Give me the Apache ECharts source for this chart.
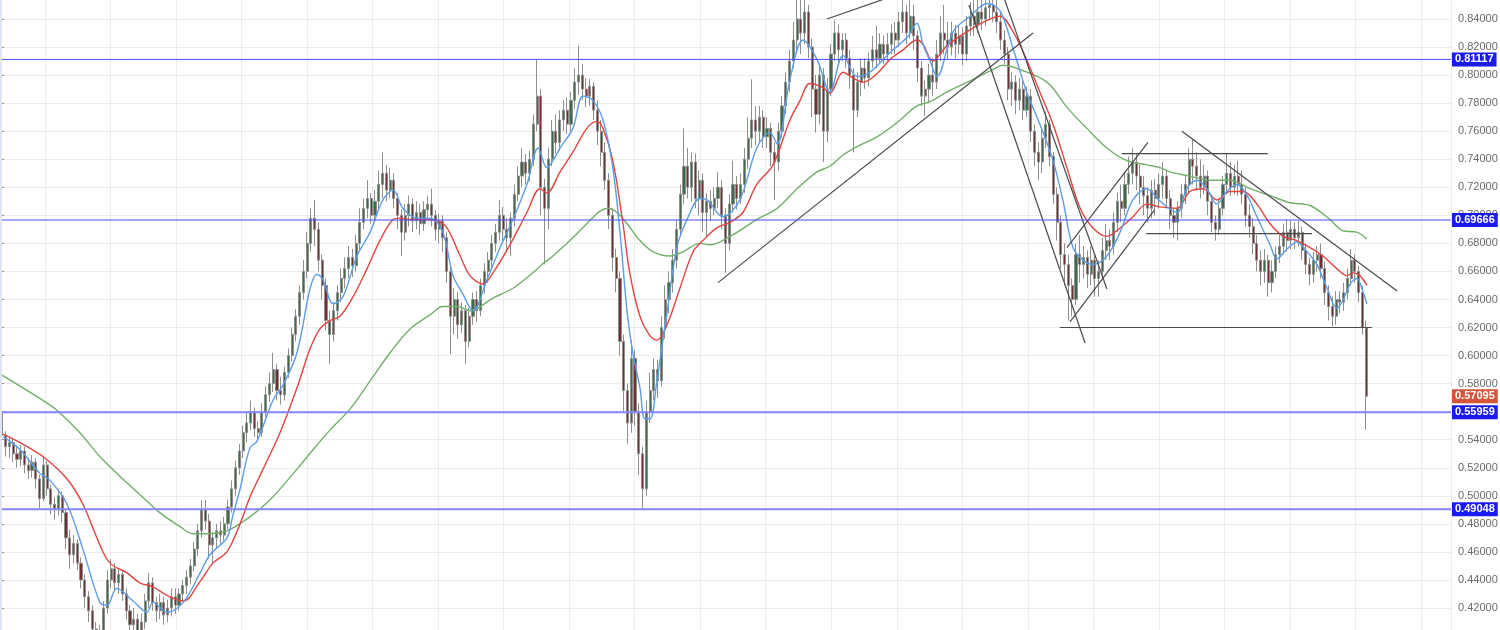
<!DOCTYPE html>
<html><head><meta charset="utf-8">
<script src="https://cdn.jsdelivr.net/npm/echarts/dist/echarts.min.js"></script>
<style>html,body{margin:0;padding:0;background:#fff;overflow:hidden}#c{width:1500px;height:630px}</style>
</head><body><div id="c"></div>
<script>
// Candles: [open, close, low, high] — one candle per 3 weeks
const candles1999_2002 = [
[.560,.543,.540,.566],[.543,.535,.528,.546],[.535,.538,.527,.542],[.538,.530,.524,.541],[.530,.526,.520,.535],
[.526,.532,.521,.536],[.532,.522,.516,.535],[.522,.518,.512,.527],[.518,.524,.513,.529],[.524,.512,.505,.527],
[.512,.498,.491,.515],[.498,.522,.496,.528],[.522,.505,.500,.525],[.505,.494,.487,.508],[.494,.490,.483,.499],
[.490,.500,.486,.505],[.500,.488,.481,.503],[.488,.470,.462,.491],[.470,.458,.448,.476],[.458,.466,.452,.472],
[.466,.452,.447,.469],[.452,.440,.434,.456],[.440,.428,.420,.444],[.428,.418,.410,.432],[.418,.405,.398,.422],
[.405,.395,.390,.410],[.395,.402,.390,.408],[.402,.420,.398,.425],[.420,.440,.416,.447],[.440,.448,.434,.455],
[.448,.438,.432,.452],[.438,.444,.430,.448],[.444,.430,.425,.447],[.430,.418,.412,.434],[.418,.408,.400,.422],
[.408,.412,.400,.420],[.412,.402,.396,.416],[.402,.410,.398,.416],[.410,.425,.405,.430],[.425,.438,.420,.445],
[.438,.424,.418,.442],[.424,.418,.410,.428],[.418,.424,.412,.430],[.424,.415,.408,.428],[.415,.420,.410,.426],
[.420,.428,.414,.434]
];
const candles2002_2005 = [
[.428,.422,.416,.434],[.422,.430,.418,.434],[.430,.436,.425,.440],[.436,.442,.430,.447],[.442,.450,.437,.455],
[.450,.462,.446,.467],[.462,.475,.457,.480],[.475,.490,.470,.497],[.490,.482,.476,.497],[.482,.465,.455,.487],
[.465,.470,.451,.474],[.470,.475,.463,.480],[.475,.472,.466,.482],[.472,.480,.468,.485],[.480,.492,.476,.497],
[.492,.505,.488,.511],[.505,.520,.500,.525],[.520,.532,.515,.537],[.532,.545,.527,.550],[.545,.552,.538,.560],
[.552,.560,.547,.568],[.560,.548,.542,.563],[.548,.545,.539,.553],[.545,.560,.542,.566],[.560,.572,.556,.578],
[.572,.580,.567,.588],[.580,.590,.574,.602],[.590,.575,.568,.594],[.575,.572,.565,.585],[.572,.588,.568,.592],
[.588,.600,.584,.605],[.600,.615,.596,.620],[.615,.628,.610,.633],[.628,.645,.622,.650],[.645,.660,.640,.668],
[.660,.680,.655,.688],[.680,.698,.674,.705],[.698,.690,.678,.711],[.690,.668,.660,.695],[.668,.650,.640,.672],
[.650,.625,.618,.655],[.625,.615,.594,.632],[.615,.632,.610,.638],[.632,.645,.625,.650],[.645,.655,.638,.662],
[.655,.662,.648,.670],[.662,.670,.655,.678],[.670,.664,.656,.676],[.664,.680,.660,.686],[.680,.695,.675,.705],
[.695,.705,.690,.712],[.705,.712,.698,.725]
];
const candles2005_2008 = [
[.712,.700,.694,.716],[.700,.710,.695,.718],[.710,.722,.705,.732],[.722,.730,.712,.745],[.730,.718,.710,.736],
[.718,.725,.712,.734],[.725,.712,.705,.730],[.712,.700,.690,.716],[.700,.688,.671,.704],[.688,.700,.682,.708],
[.700,.708,.692,.714],[.708,.696,.688,.712],[.696,.702,.690,.710],[.702,.694,.686,.708],[.694,.704,.689,.710],
[.704,.708,.697,.714],[.708,.700,.692,.719],[.700,.690,.682,.704],[.690,.696,.680,.701],[.696,.684,.674,.700],
[.684,.660,.652,.688],[.660,.628,.601,.664],[.628,.640,.615,.648],[.640,.622,.612,.645],[.622,.632,.616,.638],
[.632,.610,.594,.636],[.610,.628,.606,.634],[.628,.640,.622,.645],[.640,.632,.624,.646],[.632,.650,.628,.655],
[.650,.660,.644,.666],[.660,.668,.652,.674],[.668,.680,.662,.686],[.680,.688,.674,.694],[.688,.700,.682,.711],
[.700,.690,.680,.706],[.690,.684,.674,.698],[.684,.698,.671,.702],[.698,.715,.692,.722],[.715,.728,.710,.735],
[.728,.738,.720,.748],[.738,.730,.722,.744],[.730,.740,.724,.746],[.740,.765,.735,.772],[.765,.785,.760,.811],
[.785,.720,.700,.790],[.720,.705,.665,.726],[.705,.740,.690,.748],[.740,.760,.735,.768],[.760,.752,.744,.772],
[.752,.768,.746,.775],[.768,.775,.760,.782],[.775,.765,.758,.784]
];
const candles2008_2011 = [
[.765,.782,.760,.788],[.782,.795,.776,.805],[.795,.800,.786,.821],[.800,.790,.782,.808],[.790,.785,.777,.798],
[.785,.792,.778,.797],[.792,.775,.768,.795],[.775,.760,.750,.782],[.760,.745,.735,.768],[.745,.725,.718,.752],
[.725,.700,.690,.730],[.700,.670,.660,.705],[.670,.655,.645,.676],[.655,.610,.600,.660],[.610,.575,.560,.615],
[.575,.552,.537,.580],[.552,.598,.545,.611],[.598,.560,.550,.604],[.560,.530,.515,.566],[.530,.505,.491,.535],
[.505,.560,.500,.568],[.560,.575,.552,.588],[.575,.590,.568,.598],[.590,.582,.570,.597],[.582,.620,.578,.628],
[.620,.640,.612,.650],[.640,.652,.630,.660],[.652,.668,.645,.676],[.668,.690,.662,.697],[.690,.715,.685,.722],
[.715,.735,.708,.762],[.735,.720,.712,.748],[.720,.738,.710,.745],[.738,.712,.705,.744],[.712,.725,.700,.732],
[.725,.702,.688,.730],[.702,.710,.685,.716],[.710,.705,.696,.718],[.705,.712,.700,.720],[.712,.720,.705,.731],
[.720,.700,.690,.725],[.700,.680,.659,.705],[.680,.708,.675,.715],[.708,.722,.702,.739],[.722,.712,.704,.728],
[.712,.722,.708,.730],[.722,.740,.716,.748],[.740,.755,.733,.770],[.755,.768,.748,.797],[.768,.760,.750,.778],
[.760,.770,.752,.778],[.770,.756,.748,.775]
];
const candles2011_2014 = [
[.756,.762,.748,.770],[.762,.745,.735,.766],[.745,.738,.711,.752],[.738,.760,.732,.766],[.760,.778,.755,.785],
[.778,.795,.772,.802],[.795,.810,.788,.818],[.810,.825,.805,.838],[.825,.840,.818,.860],[.840,.830,.815,.858],
[.830,.845,.822,.856],[.845,.820,.812,.850],[.820,.790,.770,.826],[.790,.772,.759,.800],[.772,.800,.765,.806],
[.800,.760,.738,.805],[.760,.790,.752,.798],[.790,.815,.785,.822],[.815,.830,.810,.839],[.830,.818,.808,.836],
[.818,.825,.810,.830],[.825,.812,.805,.830],[.812,.800,.790,.818],[.800,.775,.745,.805],[.775,.795,.770,.802],
[.795,.805,.785,.812],[.805,.798,.790,.812],[.798,.810,.792,.816],[.810,.818,.805,.828],[.818,.812,.805,.835],
[.812,.822,.808,.830],[.822,.815,.808,.828],[.815,.822,.810,.830],[.822,.830,.815,.836],[.830,.825,.815,.838],
[.825,.838,.820,.845],[.838,.845,.830,.855],[.845,.830,.822,.850],[.830,.842,.826,.860],[.842,.828,.818,.850],
[.828,.805,.795,.832],[.805,.785,.778,.810],[.785,.790,.771,.796],[.790,.800,.780,.808],[.800,.795,.785,.812],
[.795,.815,.790,.825],[.815,.830,.810,.842],[.830,.825,.815,.850],[.825,.820,.811,.838],[.820,.830,.814,.838],
[.830,.822,.812,.836],[.822,.828,.815,.835]
];
const candles2014_2017 = [
[.828,.815,.807,.834],[.815,.835,.810,.842],[.835,.842,.828,.852],[.842,.836,.828,.855],[.836,.845,.830,.858],
[.845,.840,.832,.856],[.840,.848,.835,.860],[.848,.850,.840,.862],[.850,.845,.838,.860],[.845,.838,.830,.855],
[.838,.825,.818,.845],[.825,.815,.808,.832],[.815,.790,.782,.820],[.790,.795,.778,.802],[.795,.782,.772,.800],
[.782,.790,.775,.798],[.790,.775,.768,.796],[.775,.785,.770,.792],[.785,.760,.752,.790],[.760,.745,.735,.765],
[.745,.738,.725,.752],[.738,.755,.730,.762],[.755,.765,.748,.774],[.765,.742,.735,.768],[.742,.715,.708,.745],
[.715,.695,.682,.720],[.695,.672,.662,.700],[.672,.665,.650,.680],[.665,.650,.625,.672],[.650,.640,.628,.655],
[.640,.672,.636,.680],[.672,.665,.652,.686],[.665,.670,.655,.678],[.670,.658,.648,.675],[.658,.668,.650,.678],
[.668,.655,.642,.672],[.655,.660,.642,.668],[.660,.675,.655,.684],[.675,.682,.668,.694],[.682,.678,.668,.690],
[.678,.695,.672,.702],[.695,.710,.688,.716],[.710,.705,.695,.722],[.705,.722,.700,.731],[.722,.730,.715,.742],
[.730,.738,.722,.748],[.738,.728,.718,.744],[.728,.720,.708,.736],[.720,.714,.700,.728],[.714,.705,.695,.720],
[.705,.718,.698,.725],[.718,.712,.700,.726]
];
const candles2017_2020 = [
[.712,.722,.705,.730],[.722,.728,.712,.738],[.728,.712,.705,.732],[.712,.700,.690,.718],[.700,.695,.684,.705],
[.695,.705,.682,.710],[.705,.715,.698,.722],[.715,.722,.708,.728],[.722,.740,.715,.748],[.740,.735,.722,.755],
[.735,.728,.718,.745],[.728,.720,.712,.740],[.720,.728,.715,.736],[.728,.710,.700,.732],[.710,.695,.688,.715],
[.695,.690,.682,.700],[.690,.705,.686,.712],[.705,.722,.700,.728],[.722,.730,.715,.744],[.730,.720,.714,.738],
[.720,.728,.715,.736],[.728,.722,.714,.739],[.722,.715,.708,.732],[.715,.700,.692,.720],[.700,.692,.684,.708],
[.692,.680,.672,.698],[.680,.668,.660,.686],[.668,.660,.650,.675],[.660,.668,.652,.676],[.668,.652,.642,.672],
[.652,.660,.645,.668],[.660,.672,.655,.678],[.672,.678,.666,.686],[.678,.688,.672,.694],[.688,.682,.674,.697],
[.682,.690,.676,.696],[.690,.684,.676,.695],[.684,.688,.678,.696],[.688,.675,.668,.692],[.675,.665,.658,.680],
[.665,.658,.650,.670],[.658,.668,.652,.674],[.668,.672,.660,.678],[.672,.662,.655,.680],[.662,.645,.636,.667],
[.645,.635,.625,.650],[.635,.628,.621,.642],[.628,.640,.622,.646],[.640,.638,.630,.646],[.638,.645,.632,.652],
[.645,.655,.640,.662],[.655,.668,.650,.676],[.668,.660,.652,.672],[.660,.645,.638,.664],[.645,.620,.615,.650],
[.620,.571,.547,.625]
];

// Moving averages, read as [candle index, value]
const maFast = [[0.4,.542],[4.8,.533],[10.1,.516],[12.8,.511],[17.3,.494],[21.5,.462],[26,.424],[27.9,.422],[30.5,.434],[34.8,.425],[38.5,.417],[40.1,.424],[43.8,.417],[48.1,.424],[52.6,.445],[55.2,.458],[59.7,.470],[61.2,.485],[63.2,.505],[65.8,.534],[67.7,.539],[71.9,.568],[74.6,.579],[78.3,.602],[81.8,.648],[83.6,.658],[85.2,.654],[87.9,.637],[90.5,.642],[94.2,.671],[97.7,.688],[101.1,.711],[103.8,.718],[106.4,.705],[110.1,.698],[113.6,.698],[117,.688],[119.7,.657],[122.3,.644],[125,.632],[128.7,.654],[132.2,.677],[135.6,.697],[139.3,.722],[142.3,.748],[144.6,.734],[148.1,.748],[151.5,.762],[154.2,.785],[156.8,.782],[159.5,.768],[162.1,.734],[164,.688],[165.9,.631],[167.4,.602],[169.3,.577],[170.6,.555],[172,.555],[173.8,.582],[176.5,.631],[179.1,.677],[181.8,.697],[185.2,.712],[187.1,.711],[191.3,.699],[195.8,.711],[200.3,.748],[203.8,.759],[205.7,.751],[209.1,.797],[212.6,.825],[216.3,.811],[219.7,.788],[223.2,.814],[226.9,.799],[230.3,.802],[235.6,.816],[240.2,.827],[242.8,.837],[244.4,.822],[246.3,.810],[248.1,.799],[252.4,.831],[256.9,.842],[261.4,.851],[264.8,.846],[268.3,.819],[271.9,.788],[275.4,.765],[278.9,.739],[281.5,.711],[284.2,.677],[286.9,.668],[289.5,.665],[293.2,.671],[296.7,.688],[300.1,.711],[303.8,.719],[307.3,.710],[311.8,.702],[314.4,.719],[317.1,.725],[319.7,.719],[322.4,.708],[325,.717],[327.7,.722],[330.4,.714],[333,.699],[336.5,.679],[338.3,.669],[341,.676],[343.6,.681],[346.3,.674],[348.9,.665],[351.6,.648],[354.2,.634],[355.8,.639],[357.7,.651],[359.5,.655],[361.2,.645],[362.2,.637]];
const maMid = [[0.3,.544],[4.8,.538],[10.9,.528],[17.3,.512],[21.5,.494],[26,.465],[28.7,.452],[33.2,.445],[36.6,.438],[40.1,.435],[43.8,.429],[48.1,.425],[52.6,.439],[56,.452],[59.7,.460],[63.2,.480],[65.8,.499],[69.3,.519],[73.8,.545],[78.3,.577],[81.8,.605],[84.4,.619],[87.1,.625],[89.7,.628],[93.2,.642],[96.9,.662],[100.3,.682],[103.8,.697],[105.6,.698],[108.3,.697],[111.7,.697],[115.5,.696],[118.1,.691],[121.6,.671],[124.2,.657],[127.7,.651],[130.3,.659],[134.8,.679],[139.3,.702],[142.8,.719],[144.6,.716],[148.1,.731],[151.5,.745],[155.2,.762],[157.9,.767],[159.5,.762],[162.1,.739],[164.8,.694],[166.6,.659],[169.3,.628],[172,.614],[173.8,.611],[176.5,.622],[179.9,.648],[183.4,.674],[186,.682],[189.7,.691],[193.2,.695],[196.6,.702],[200.3,.722],[204.6,.736],[209.1,.768],[211.8,.782],[214.4,.794],[217.9,.791],[219.7,.787],[223.2,.802],[225.8,.798],[228.5,.795],[232.2,.801],[235.6,.811],[239.1,.818],[242.8,.825],[244.4,.822],[247,.810],[250.8,.821],[256.1,.831],[261.4,.839],[264.8,.842],[268.3,.831],[271.9,.811],[275.4,.788],[278.9,.765],[282.6,.734],[286.1,.705],[289.5,.691],[293.2,.685],[296.7,.691],[300.1,.699],[303.8,.708],[307.3,.706],[311.8,.705],[315.2,.717],[318.7,.719],[322.4,.711],[325.8,.717],[329.3,.717],[333,.708],[336.5,.694],[340,.685],[343.6,.682],[347.1,.677],[350.5,.671],[354.2,.662],[356.9,.657],[358.5,.659],[360.3,.657],[362.2,.650]];
const maSlow = [[0,.586],[10.9,.568],[14.6,.561],[20.7,.545],[26,.528],[31.3,.514],[36.6,.501],[41.9,.488],[47.3,.478],[50.7,.473],[54.4,.473],[59.7,.475],[65.8,.485],[71.1,.497],[78.3,.519],[82.6,.533],[87.1,.547],[92.4,.562],[97.7,.582],[103,.602],[108.3,.619],[113.6,.629],[117,.635],[120.8,.635],[124.2,.632],[130.3,.641],[135.6,.648],[140.9,.659],[143.3,.665],[146.2,.671],[150.7,.682],[155.2,.694],[158.7,.703],[160.8,.705],[163.2,.702],[165.9,.694],[169.3,.682],[172.8,.674],[177.3,.671],[180.7,.674],[185.2,.680],[187.9,.679],[193.2,.685],[200.3,.697],[205.7,.705],[211,.719],[216.3,.731],[219.7,.735],[223.2,.743],[226.9,.749],[232.2,.756],[237.5,.766],[242.8,.778],[246.3,.781],[250.8,.788],[257.7,.797],[263,.804],[265.6,.807],[270.1,.804],[277.3,.795],[282.6,.777],[287.9,.762],[293.2,.748],[298.5,.739],[303.8,.736],[307.3,.734],[309.9,.731],[315.2,.728],[320.5,.725],[325.8,.725],[331.2,.719],[336.5,.714],[341.8,.709],[347.1,.707],[352.4,.697],[355.8,.689],[359.5,.688],[362.2,.683]];

// Drawn trend lines: [startIndex, startValue, endIndex, endValue]
const trendLines = [
  [218.9,.840,235.5,.8555],
  [190.0,.652,273.6,.830],
  [256.6,.850,287.4,.609],
  [266.1,.8535,293.2,.6475],
  [282.6,.677,304.1,.752],
  [283.4,.624,305.9,.704],
  [280.7,.620,363.5,.620],
  [297.2,.744,335.9,.744],
  [303.6,.687,347.6,.687],
  [313.1,.760,370.2,.646]
];
// Horizontal levels
const majorLevels = [0.81117, 0.69666];
const minorLevels = [0.55959, 0.49048];
const lastPrice = 0.57095;
// Y-axis tick range
const yMin = 0.40, yMax = 0.86, yStep = 0.02;
// Year grid (vertical lines)
const yearFirst = 1999, yearLast = 2021.459;

const candles = [].concat(candles1999_2002, candles2002_2005, candles2005_2008,
  candles2008_2011, candles2011_2014, candles2014_2017, candles2017_2020);
const SLOTS = 385;
const categories = [];
for (let i = 0; i < SLOTS; i++) categories.push('w' + i);

const chart = echarts.init(document.getElementById('c'), null, {renderer: 'canvas'});

function levelLabel(bg) {
  return {
    show: true, position: 'end', distance: 1,
    formatter: p => Number(p.value).toFixed(5),
    color: '#ffffff', backgroundColor: bg, fontSize: 11, fontWeight: 'bold',
    fontFamily: 'Liberation Sans, Arial, sans-serif',
    padding: [2, 3, 1, 3]
  };
}

const maSeries = (data, color) => ({
  type: 'line', xAxisIndex: 1, yAxisIndex: 0,
  data: data.map(p => [p[0] + 0.5, p[1]]),
  smooth: 0.35, showSymbol: false, silent: true, z: 3,
  lineStyle: {color: color, width: 1.4}
});

const levelLineSeries = (v, color, width) => ({
  type: 'line', xAxisIndex: 1, yAxisIndex: 0, silent: true, z: 5,
  data: [[0, v], [SLOTS, v]], showSymbol: false,
  lineStyle: {color: color, width: width}
});

const slowSeries = maSeries(maSlow, '#72b06a');
slowSeries.markLine = {
  symbol: 'none', silent: true, animation: false, precision: 5,
  lineStyle: {color: 'rgba(0,0,0,0)', width: 0},
  data: [].concat(
    majorLevels.map(v => ({yAxis: v, label: levelLabel('#1a1af5')})),
    minorLevels.map(v => ({yAxis: v, label: levelLabel('#1a1af5')})),
    [{yAxis: lastPrice, label: levelLabel('#d4553a')}]
  )
};

const series = [
  {
    type: 'candlestick', xAxisIndex: 0, yAxisIndex: 0,
    data: candles, barWidth: 2.6, z: 2,
    itemStyle: {color: '#3f6c48', color0: '#703030', borderColor: '#8f8f8f', borderColor0: '#8f8f8f', borderWidth: 1}
  },
  slowSeries,
  maSeries(maMid, '#e0453f'),
  maSeries(maFast, '#5a9ee6')
];
majorLevels.forEach(v => series.push(levelLineSeries(v, '#4b4bff', 1)));
minorLevels.forEach(v => series.push(levelLineSeries(v, '#8585ff', 2)));
trendLines.forEach(t => series.push({
  type: 'line', xAxisIndex: 1, yAxisIndex: 0, silent: true, z: 4,
  data: [[t[0] + 0.5, t[1]], [t[2] + 0.5, t[3]]],
  showSymbol: false, lineStyle: {color: '#4a4a4a', width: 1.2}
}));

chart.setOption({
  animation: false,
  backgroundColor: '#ffffff',
  grid: [
    {left: 0, right: 49, top: -9.05, bottom: -6.05, containLabel: false, outerBoundsMode: 'none'},
    {left: -20.52, right: 49, top: 0, bottom: 0, containLabel: false, outerBoundsMode: 'none'}
  ],
  xAxis: [
    {type: 'category', gridIndex: 0, data: categories, boundaryGap: true, show: false},
    {type: 'value', gridIndex: 0, min: 0, max: SLOTS, show: false},
    {type: 'value', gridIndex: 1, min: yearFirst, max: yearLast, interval: 1,
     axisLine: {show: false}, axisTick: {show: false}, axisLabel: {show: false},
     splitLine: {show: true, lineStyle: {color: '#ececec', width: 1}}}
  ],
  yAxis: [
    {type: 'value', gridIndex: 0, position: 'right', min: yMin, max: yMax, interval: yStep,
     axisLine: {show: true, lineStyle: {color: '#8c8c8c'}},
     axisTick: {show: true, length: 4, lineStyle: {color: '#8c8c8c'}},
     axisLabel: {color: '#6a6a6a', fontSize: 11, margin: 7, fontFamily: 'Liberation Sans, Arial, sans-serif',
                 formatter: v => v.toFixed(5)},
     splitLine: {show: true, lineStyle: {color: '#ececec', width: 1}}},
    {type: 'value', gridIndex: 1, show: false}
  ],
  graphic: [{type: 'rect', shape: {x: 0, y: 0, width: 2, height: 630}, style: {fill: '#dfe4f1'}, z: 10}],
  series: series
});
</script></body></html>
